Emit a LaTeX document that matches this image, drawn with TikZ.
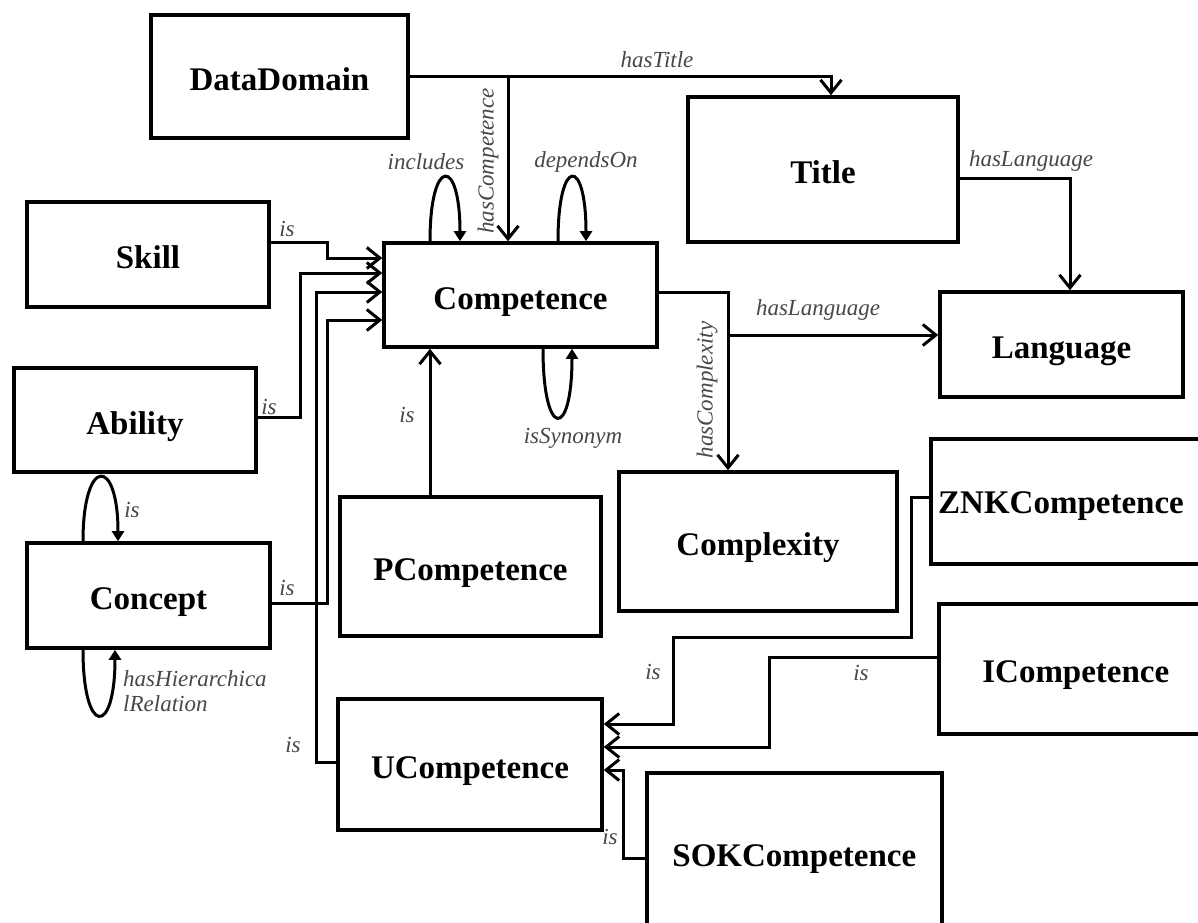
\documentclass[tikz,border=0pt]{standalone}
\usepackage{fontspec}
\setmainfont{Liberation Serif}
\usetikzlibrary{arrows.meta}
\begin{document}
\begin{tikzpicture}[x=1pt,y=-1pt,
  box/.style={draw, line width=3.6pt, font=\bfseries\fontsize{33}{33}\selectfont, inner sep=0pt, text height=28pt, text depth=0pt},
  boxtext/.style={font=\bfseries\fontsize{33}{33}\selectfont, inner sep=0pt, text height=28pt, text depth=0pt},
  lbl/.style={font=\itshape\fontsize{23}{23}\selectfont, text=black!72, inner sep=0pt},
  conn/.style={line width=3pt, line join=miter, -{Straight Barb[length=13pt,width=21pt]}},
  loopc/.style={line width=3pt, -{Triangle[length=10pt,width=12pt]}}]
\useasboundingbox (0,0) rectangle (1198,922);
\clip (0,0) rectangle (1198,922);

% boxes
\node[box, minimum width=257pt, minimum height=123pt] (dd) at (279.5,76.5) {DataDomain};
\node[box, minimum width=270pt, minimum height=145pt] (title) at (823,169.5) {Title};
\node[box, minimum width=243pt, minimum height=105pt] (lang) at (1061.5,344.5) {Language};
\node[box, minimum width=242pt, minimum height=105pt] (skill) at (148,254.5) {Skill};
\node[box, minimum width=242pt, minimum height=104pt] (abil) at (135,420) {Ability};
\node[box, minimum width=243pt, minimum height=105pt] (conc) at (148.5,595.5) {Concept};
\node[box, minimum width=273pt, minimum height=104pt] (comp) at (520.5,295) {Competence};
\node[box, minimum width=261pt, minimum height=139pt] (pcomp) at (470.5,566.5) {PCompetence};
\node[box, minimum width=278pt, minimum height=139pt] (cplx) at (758,541.5) {Complexity};
\node[box, minimum width=264pt, minimum height=131pt] (ucomp) at (470,764.5) {UCompetence};
\node[box, anchor=north west, minimum width=280pt, minimum height=125pt] (znk) at (929,437) {};
\node[boxtext] (znkt) at (1061,499) {ZNKCompetence};
\node[box, anchor=north west, minimum width=274pt, minimum height=130pt] (icomp) at (937,602) {ICompetence};
\node[box, anchor=north west, minimum width=295pt, minimum height=160pt] (sok) at (645,771) {SOKCompetence};

% DataDomain connectors
\coordinate (hcj) at (508,76.5);
\draw[conn] (dd.east) -- (831,76.5) -- (title.north -| 831,0);
\draw[conn] (hcj) -- (comp.north -| hcj);
\node[lbl] (lhastitle) at (657,60) {hasTitle};
\node[lbl, rotate=90] (lhascomp) at (488,161) {hasCompetence};

% self loops on Competence
\draw[loopc] (comp.north -| 430,0) .. controls (430,156) and (460,156) .. (comp.north -| 460,0);
\draw[loopc] (comp.north -| 558,0) .. controls (558,156) and (586,156) .. (comp.north -| 586,0);
\draw[loopc] (comp.south -| 543,0) .. controls (543,440) and (572,440) .. (comp.south -| 572,0);
\node[lbl] (lincl) at (426,162) {includes};
\node[lbl] (ldep) at (586,162) {dependsOn};
\node[lbl] (lsyn) at (573,438) {isSynonym};

% is-links into Competence
\draw[conn] (skill.east |- 0,242) -- (327,242) -- (327,258) -- (comp.west |- 0,258);
\draw[conn] (abil.east |- 0,417) -- (300,417) -- (300,273) -- (comp.west |- 0,273);
\draw[conn] (ucomp.west |- 0,762) -- (316,762) -- (316,292) -- (comp.west |- 0,292);
\draw[conn] (conc.east |- 0,603) -- (327,603) -- (327,320) -- (comp.west |- 0,320);
\draw[conn] (pcomp.north -| 430,0) -- (comp.south -| 430,0);
\node[lbl] (lskill) at (287,229) {is};
\node[lbl] (labil) at (269,407) {is};
\node[lbl] (lconc) at (287,588) {is};
\node[lbl] (lucomp) at (293,745) {is};
\node[lbl] (lpcomp) at (407,415) {is};

% Concept loops
\draw[loopc] (conc.north -| 83,0) .. controls (83,456) and (118,456) .. (conc.north -| 118,0);
\draw[loopc] (conc.south -| 83,0) .. controls (83,737) and (115,737) .. (conc.south -| 115,0);
\node[lbl] (lconcis) at (132,510) {is};
\node[lbl, anchor=west, align=left] (lhier) at (123,691) {hasHierarchica\\[2pt]lRelation};

% Competence -> Complexity / Language
\coordinate (hlj) at (728,335);
\draw[conn] (comp.east |- 0,292) -- (728,292) -- (cplx.north -| 728,0);
\draw[conn] (hlj) -- (lang.west |- hlj);
\node[lbl] (lhaslang) at (818,310) {hasLanguage};
\node[lbl, rotate=90] (lhascplx) at (707,390) {hasComplexity};

% Title -> Language
\draw[conn] (title.east |- 0,178) -- (1070,178) -- (lang.north -| 1070,0);
\node[lbl] (lhaslang2) at (1031,161) {hasLanguage};

% is-links into UCompetence
\draw[conn] (znk.west |- 0,497) -- (911,497) -- (911,637) -- (673,637) -- (673,724) -- (ucomp.east |- 0,724);
\draw[conn] (icomp.west |- 0,657) -- (769,657) -- (769,747) -- (ucomp.east |- 0,747);
\draw[conn] (sok.west |- 0,858) -- (623,858) -- (623,770) -- (ucomp.east |- 0,770);
\node[lbl] (lznk) at (653,672) {is};
\node[lbl] (licomp) at (861,673) {is};
\node[lbl] (lsok) at (610,837) {is};
\end{tikzpicture}
\end{document}
